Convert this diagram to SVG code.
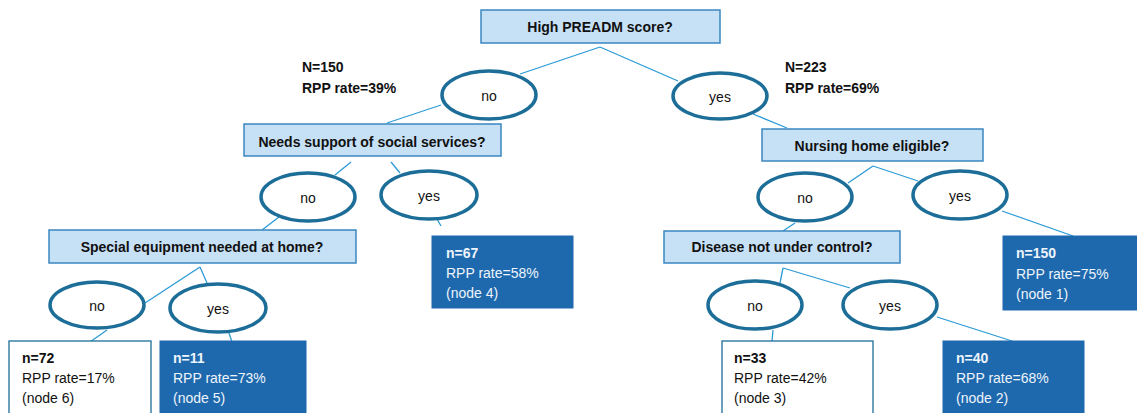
<svg xmlns="http://www.w3.org/2000/svg" width="1137" height="413" viewBox="0 0 1137 413">
<style>
text{font-family:"Liberation Sans",Arial,sans-serif;font-size:14px;fill:#111}
.q{fill:#c6e0f5;stroke:#3a87c0;stroke-width:1.5}
.qt{font-weight:bold;text-anchor:middle}
.e{fill:#fff;stroke:#1c6e99;stroke-width:3.5}
.et{text-anchor:middle}
.w{fill:#fff;stroke:#1c6e99;stroke-width:1.3}
.d{fill:#1e69ad;stroke:#1e69ad;stroke-width:1}
.dt{fill:#eef4fb}
.b{font-weight:bold}
.c line{stroke:#2b9ad6;stroke-width:1.3}
</style>
<g class="c" id="connectors">
<line x1="600" y1="47" x2="520" y2="74"/>
<line x1="600" y1="47" x2="678" y2="81"/>
<line x1="441" y1="105" x2="387" y2="123"/>
<line x1="753" y1="114" x2="787" y2="128"/>
<line x1="351" y1="162" x2="335" y2="175"/>
<line x1="391" y1="162" x2="400" y2="173"/>
<line x1="279" y1="217" x2="262" y2="230"/>
<line x1="437" y1="219" x2="441" y2="226"/>
<line x1="200" y1="267" x2="145" y2="303"/>
<line x1="200" y1="267" x2="207" y2="283"/>
<line x1="107" y1="330" x2="90" y2="342"/>
<line x1="229" y1="333" x2="232" y2="342"/>
<line x1="873" y1="166" x2="848" y2="183"/>
<line x1="873" y1="166" x2="918" y2="181"/>
<line x1="1002" y1="211" x2="1073" y2="236"/>
<line x1="795" y1="223" x2="783" y2="231"/>
<line x1="783" y1="268" x2="780" y2="283"/>
<line x1="783" y1="268" x2="850" y2="288"/>
<line x1="773" y1="330" x2="772" y2="341"/>
<line x1="937" y1="317" x2="1012" y2="341"/>
</g>
<g id="q-preadm"><rect class="q" x="481" y="10" width="239" height="33"/><text class="qt" x="600" y="32">High PREADM score?</text></g>
<g id="stat-left"><text class="b" x="302" y="72">N=150</text><text class="b" x="302" y="93">RPP rate=39%</text></g>
<g id="stat-right"><text class="b" x="785" y="72">N=223</text><text class="b" x="785" y="93">RPP rate=69%</text></g>
<g id="a-no1"><ellipse class="e" cx="489" cy="95" rx="47" ry="24"/><text class="et" x="489" y="101">no</text></g>
<g id="a-yes1"><ellipse class="e" cx="720" cy="96" rx="47" ry="23"/><text class="et" x="720" y="102">yes</text></g>
<g id="q-social"><rect class="q" x="244" y="124" width="257" height="32"/><text class="qt" x="372" y="147">Needs support of social services?</text></g>
<g id="q-nursing"><rect class="q" x="762" y="129" width="221" height="32"/><text class="qt" x="872" y="151">Nursing home eligible?</text></g>
<g id="a-no2"><ellipse class="e" cx="308" cy="197" rx="47" ry="24"/><text class="et" x="308" y="203">no</text></g>
<g id="a-yes2"><ellipse class="e" cx="429" cy="195" rx="48" ry="24"/><text class="et" x="429" y="201">yes</text></g>
<g id="a-no4"><ellipse class="e" cx="805" cy="197" rx="47" ry="24"/><text class="et" x="805" y="203">no</text></g>
<g id="a-yes4"><ellipse class="e" cx="960" cy="195" rx="47" ry="24"/><text class="et" x="960" y="201">yes</text></g>
<g id="q-equip"><rect class="q" x="49" y="230" width="307" height="33"/><text class="qt" x="202" y="252">Special equipment needed at home?</text></g>
<g id="q-disease"><rect class="q" x="664" y="231" width="236" height="32"/><text class="qt" x="782" y="252">Disease not under control?</text></g>
<g id="node4"><rect class="d" x="432" y="236" width="141" height="72"/><text class="dt b" x="446" y="258">n=67</text><text class="dt" x="446" y="278">RPP rate=58%</text><text class="dt" x="446" y="298">(node 4)</text></g>
<g id="node1"><rect class="d" x="1003" y="236" width="140" height="74"/><text class="dt b" x="1016" y="258">n=150</text><text class="dt" x="1016" y="279">RPP rate=75%</text><text class="dt" x="1016" y="299">(node 1)</text></g>
<g id="a-no3"><ellipse class="e" cx="97" cy="305" rx="47" ry="23"/><text class="et" x="97" y="311">no</text></g>
<g id="a-yes3"><ellipse class="e" cx="218" cy="308" rx="48" ry="24"/><text class="et" x="218" y="314">yes</text></g>
<g id="a-no5"><ellipse class="e" cx="755" cy="305" rx="47" ry="24"/><text class="et" x="755" y="311">no</text></g>
<g id="a-yes5"><ellipse class="e" cx="890" cy="305" rx="47" ry="24"/><text class="et" x="890" y="311">yes</text></g>
<g id="node6"><rect class="w" x="9" y="341" width="142" height="80"/><text class="b" x="22" y="363">n=72</text><text x="22" y="383">RPP rate=17%</text><text x="22" y="403">(node 6)</text></g>
<g id="node5"><rect class="d" x="160" y="341" width="146" height="80"/><text class="dt b" x="173" y="363">n=11</text><text class="dt" x="173" y="383">RPP rate=73%</text><text class="dt" x="173" y="403">(node 5)</text></g>
<g id="node3"><rect class="w" x="722" y="341" width="151" height="80"/><text class="b" x="734" y="363">n=33</text><text x="734" y="383">RPP rate=42%</text><text x="734" y="403">(node 3)</text></g>
<g id="node2"><rect class="d" x="943" y="341" width="141" height="80"/><text class="dt b" x="956" y="363">n=40</text><text class="dt" x="956" y="383">RPP rate=68%</text><text class="dt" x="956" y="403">(node 2)</text></g>
</svg>
